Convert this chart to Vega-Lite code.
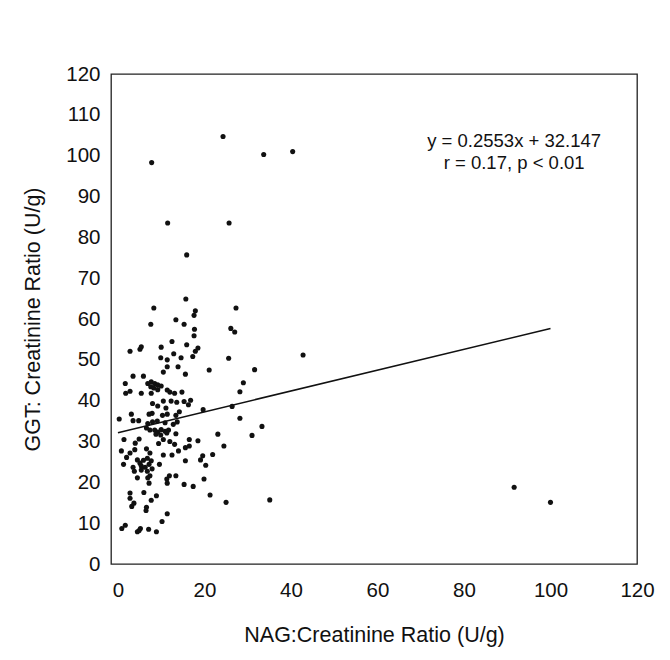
{
  "$schema": "https://vega.github.io/schema/vega-lite/v6.json",
  "width": 526,
  "height": 490,
  "autosize": {"type": "none"},
  "padding": {"left": 111, "top": 74, "right": 33, "bottom": 96},
  "background": "white",
  "config": {
    "font": "Liberation Sans",
    "view": {"stroke": "#222", "strokeWidth": 1.3},
    "axis": {"grid": false, "domain": false, "ticks": false, "labelFlush": false, "labelOverlap": false, "labelFont": "Liberation Sans", "titleFont": "Liberation Sans", "labelFontSize": 20.5, "titleFontSize": 21.5, "labelColor": "#111", "titleColor": "#111", "titleFontWeight": "normal"}
  },
  "datasets": {
    "pts": [
      {"x":15.9,"y":75.7},{"x":15.7,"y":64.9},{"x":8.3,"y":62.7},{"x":17.9,"y":62.0},{"x":17.6,"y":60.9},{"x":27.3,"y":62.7},{"x":7.6,"y":58.7},{"x":13.4,"y":59.8},{"x":15.3,"y":58.7},{"x":17.7,"y":57.5},{"x":17.6,"y":55.9},{"x":26.1,"y":57.7},{"x":27.0,"y":56.8},{"x":12.5,"y":54.5},{"x":15.9,"y":53.7},{"x":2.8,"y":52.1},{"x":5.1,"y":52.6},{"x":5.4,"y":53.2},{"x":10.0,"y":53.1},{"x":18.5,"y":52.9},{"x":17.9,"y":52.1},{"x":17.3,"y":50.8},{"x":9.9,"y":50.5},{"x":12.9,"y":51.5},{"x":11.4,"y":50.0},{"x":14.6,"y":50.5},{"x":11.4,"y":48.3},{"x":13.9,"y":48.3},{"x":10.5,"y":47.0},{"x":15.6,"y":46.5},{"x":25.6,"y":50.4},{"x":21.1,"y":47.5},{"x":31.6,"y":47.6},{"x":29.0,"y":44.4},{"x":28.2,"y":42.2},{"x":26.4,"y":38.6},{"x":28.2,"y":35.7},{"x":19.7,"y":37.8},{"x":1.7,"y":44.2},{"x":3.5,"y":46.0},{"x":5.9,"y":46.0},{"x":1.8,"y":41.8},{"x":2.8,"y":42.3},{"x":5.4,"y":41.8},
      {"x":6.9,"y":44.2},{"x":7.7,"y":44.6},{"x":8.5,"y":44.2},{"x":9.2,"y":43.9},{"x":7.6,"y":43.4},{"x":8.3,"y":43.1},{"x":7.7,"y":41.8},{"x":9.2,"y":42.7},{"x":10.0,"y":43.6},
      {"x":11.4,"y":42.6},{"x":12.0,"y":42.1},{"x":13.1,"y":41.8},{"x":14.8,"y":42.1},{"x":8.0,"y":39.3},{"x":10.5,"y":39.9},{"x":12.3,"y":39.9},{"x":13.6,"y":39.6},{"x":15.3,"y":39.8},{"x":16.8,"y":40.1},{"x":16.3,"y":39.0},{"x":14.2,"y":37.3},{"x":11.1,"y":38.2},{"x":9.2,"y":38.7},{"x":7.9,"y":36.9},{"x":7.2,"y":36.7},{"x":10.3,"y":36.4},{"x":11.4,"y":36.7},{"x":13.4,"y":36.4},{"x":0.3,"y":35.5},{"x":3.1,"y":36.7},{"x":3.5,"y":35.1},{"x":4.8,"y":35.1},{"x":6.9,"y":34.4},{"x":8.0,"y":34.8},{"x":9.1,"y":35.0},{"x":10.9,"y":34.6},{"x":12.8,"y":34.2},{"x":13.7,"y":34.8},{"x":6.6,"y":33.3},{"x":7.4,"y":32.8},{"x":8.5,"y":32.8},{"x":9.2,"y":32.3},{"x":10.0,"y":32.9},{"x":10.9,"y":32.5},{"x":11.7,"y":32.8},{"x":8.8,"y":31.8},{"x":9.9,"y":31.6},{"x":11.3,"y":32.1},{"x":13.4,"y":31.9},{"x":1.4,"y":30.5},{"x":4.0,"y":29.6},{"x":4.9,"y":30.6},{"x":9.4,"y":29.5},{"x":10.5,"y":30.5},{"x":12.0,"y":30.0},{"x":13.1,"y":29.3},{"x":14.0,"y":27.7},{"x":12.5,"y":26.7},{"x":10.5,"y":26.7},{"x":15.6,"y":28.5},{"x":16.5,"y":30.5},{"x":16.5,"y":28.9},{"x":18.5,"y":30.2},{"x":23.1,"y":31.8},{"x":24.5,"y":28.9},{"x":31.0,"y":31.5},{"x":21.9,"y":26.8},{"x":19.6,"y":26.5},{"x":19.1,"y":25.5},{"x":20.3,"y":24.2},{"x":15.6,"y":25.3},{"x":0.8,"y":27.7},{"x":2.0,"y":26.1},{"x":2.8,"y":27.2},{"x":3.9,"y":28.0},{"x":6.6,"y":28.2},{"x":7.4,"y":27.2},{"x":4.5,"y":25.5},
      {"x":5.1,"y":24.7},{"x":5.9,"y":25.4},{"x":6.8,"y":25.9},{"x":7.7,"y":25.3},{"x":5.4,"y":24.0},{"x":6.3,"y":23.7},{"x":7.2,"y":24.4},{"x":7.9,"y":23.3},{"x":5.4,"y":23.0},{"x":6.8,"y":22.7},{"x":7.4,"y":21.6},
      {"x":1.3,"y":24.4},{"x":3.5,"y":23.7},{"x":3.8,"y":22.7},{"x":4.5,"y":21.1},{"x":9.6,"y":24.4},{"x":11.9,"y":21.6},{"x":11.3,"y":20.8},{"x":11.4,"y":19.8},{"x":13.4,"y":21.6},{"x":6.9,"y":21.1},{"x":7.2,"y":19.8},{"x":15.3,"y":19.5},{"x":17.4,"y":19.0},{"x":19.9,"y":20.8},{"x":21.3,"y":16.9},{"x":25.0,"y":15.1},{"x":2.8,"y":17.4},{"x":2.8,"y":16.1},{"x":3.2,"y":14.1},{"x":3.7,"y":14.9},{"x":6.0,"y":17.5},{"x":7.7,"y":15.6},{"x":8.9,"y":16.7},{"x":6.6,"y":13.9},{"x":6.5,"y":13.1},{"x":11.4,"y":12.3},{"x":10.2,"y":10.4},{"x":0.9,"y":8.7},{"x":1.7,"y":9.5},{"x":4.5,"y":7.9},{"x":5.2,"y":8.7},{"x":7.1,"y":8.5},{"x":8.9,"y":7.9},{"x":4.9,"y":8.2},
      {"x":7.8,"y":98.3},{"x":24.3,"y":104.7},{"x":33.7,"y":100.3},{"x":40.4,"y":101.0},{"x":11.5,"y":83.5},{"x":25.7,"y":83.5},{"x":42.8,"y":51.2},
      {"x":33.3,"y":33.7},{"x":35.1,"y":15.7},{"x":91.6,"y":18.8},{"x":100,"y":15.1}
    ],
    "fit": [{"x":0,"y":32.147},{"x":100,"y":57.677}],
    "note": [{"x":91.6,"y":103.7,"t":"y = 0.2553x + 32.147"},{"x":91.6,"y":98.1,"t":"r = 0.17, p < 0.01"}]
  },
  "layer": [
    {
      "data": {"name": "pts"},
      "mark": {"type": "circle", "size": 26, "color": "#111", "opacity": 1},
      "encoding": {
        "x": {"field": "x", "type": "quantitative", "scale": {"domain": [-1.6, 120], "nice": false, "zero": false}, "axis": {"values": [0,20,40,60,80,100,120], "title": "NAG:Creatinine Ratio (U/g)", "labelPadding": 16, "titlePadding": 24}},
        "y": {"field": "y", "type": "quantitative", "scale": {"domain": [0, 120], "nice": false}, "axis": {"values": [0,10,20,30,40,50,60,70,80,90,100,110,120], "title": "GGT: Creatinine Ratio (U/g)", "labelPadding": 11, "titlePadding": 21}}
      }
    },
    {
      "data": {"name": "fit"},
      "mark": {"type": "line", "color": "#111", "strokeWidth": 1.6},
      "encoding": {
        "x": {"field": "x", "type": "quantitative"},
        "y": {"field": "y", "type": "quantitative"}
      }
    },
    {
      "data": {"name": "note"},
      "mark": {"type": "text", "fontSize": 18.5, "color": "#111", "align": "center", "baseline": "middle"},
      "encoding": {
        "x": {"field": "x", "type": "quantitative"},
        "y": {"field": "y", "type": "quantitative"},
        "text": {"field": "t"}
      }
    }
  ]
}
